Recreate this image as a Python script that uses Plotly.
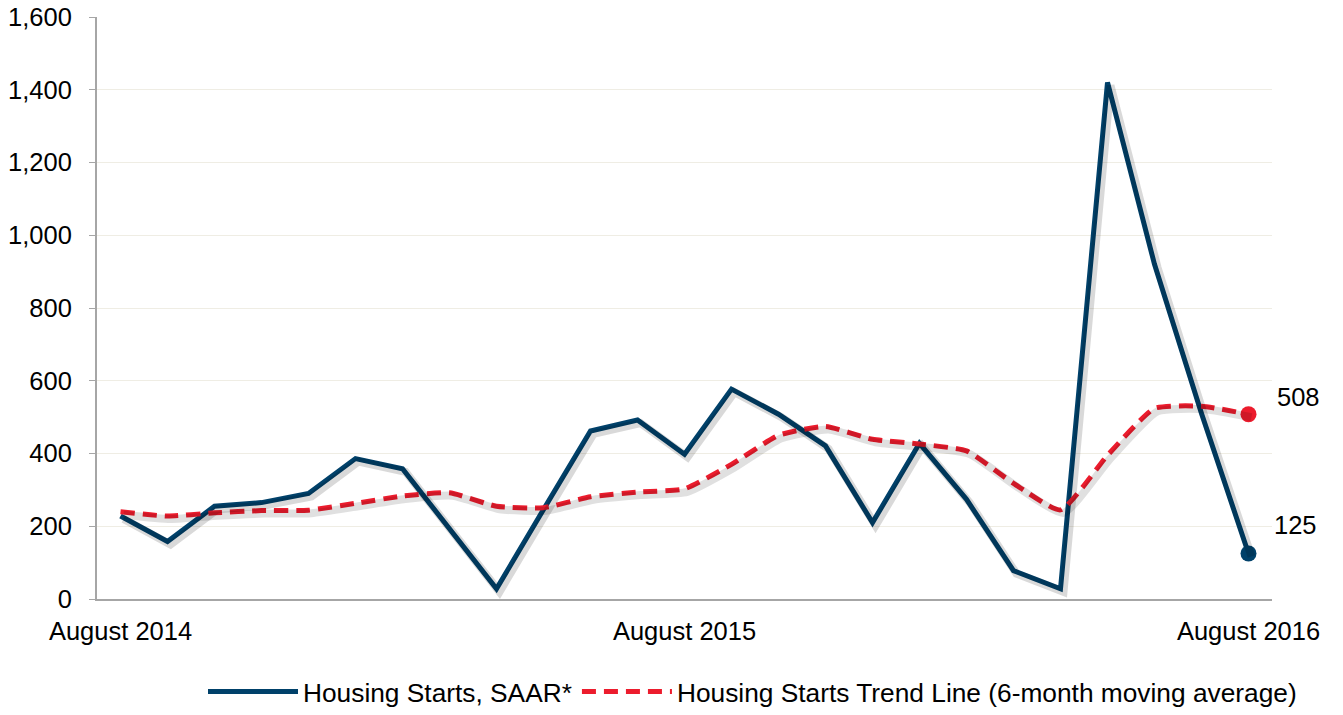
import plotly.graph_objects as go

months = ["Aug 2014", "Sep 2014", "Oct 2014", "Nov 2014", "Dec 2014",
          "Jan 2015", "Feb 2015", "Mar 2015", "Apr 2015", "May 2015", "Jun 2015", "Jul 2015",
          "Aug 2015", "Sep 2015", "Oct 2015", "Nov 2015", "Dec 2015",
          "Jan 2016", "Feb 2016", "Mar 2016", "Apr 2016", "May 2016", "Jun 2016", "Jul 2016",
          "Aug 2016"]
starts = [228, 158, 255, 265, 290, 386, 358, 192, 28, 246, 462, 492, 398, 577, 508, 421,
          210, 428, 274, 78, 28, 1420, 920, 510, 125]
trend = [240, 228, 237, 243, 244, 263, 283, 292, 255, 251, 281, 294, 303, 370, 450, 474,
         439, 426, 407, 318, 245, 395, 524, 530, 508]
tick_months = ["Aug 2014", "Aug 2015", "Aug 2016"]
tick_text = ["August 2014", "August 2015", "August 2016"]
y_ticks = [0, 200, 400, 600, 800, 1000, 1200, 1400, 1600]

NAVY = "#00416A"
RED = "#EC1C2D"
FONT = "Liberation Sans, Arial, sans-serif"
FS = 25.5

fig = go.Figure()

# drop shadows (drawn on slightly offset overlay axes)
fig.add_trace(go.Scatter(x=months, y=trend, mode="lines", xaxis="x2", yaxis="y2",
                         line=dict(color="rgba(0,0,0,0.12)", width=8, shape="spline", smoothing=0.5),
                         showlegend=False, hoverinfo="skip"))
fig.add_trace(go.Scatter(x=months, y=starts, mode="lines", xaxis="x2", yaxis="y2",
                         line=dict(color="rgba(0,0,0,0.15)", width=8),
                         showlegend=False, hoverinfo="skip"))

fig.add_trace(go.Scatter(x=months, y=starts, mode="lines", name="Housing Starts, SAAR*",
                         line=dict(color=NAVY, width=5)))
fig.add_trace(go.Scatter(x=months, y=trend, mode="lines",
                         name="Housing Starts Trend Line (6-month moving average)",
                         line=dict(color=RED, width=5, dash="14px,8px", shape="spline", smoothing=0.5)))

# end markers
fig.add_trace(go.Scatter(x=[months[-1]], y=[starts[-1]], mode="markers",
                         marker=dict(color=NAVY, size=16), showlegend=False))
fig.add_trace(go.Scatter(x=[months[-1]], y=[trend[-1]], mode="markers",
                         marker=dict(color=RED, size=16), showlegend=False))

fig.add_annotation(x=months[-1], y=trend[-1], text=str(trend[-1]), showarrow=False,
                   xshift=50, yshift=17, font=dict(size=FS, color="#000", family=FONT))
fig.add_annotation(x=months[-1], y=starts[-1], text=str(starts[-1]), showarrow=False,
                   xshift=47, yshift=29, font=dict(size=FS, color="#000", family=FONT))

px_per_cat = 47.0
px_per_unit = 582.0 / 1600.0
dx = 3 / px_per_cat
dy = 3 / px_per_unit

W, H = 1343, 715
fig.update_layout(
    width=W, height=H,
    margin=dict(l=97, r=71, t=17, b=116, autoexpand=False),
    plot_bgcolor="white", paper_bgcolor="white",
    font=dict(family=FONT, size=FS, color="#000"),
    xaxis=dict(type="category", categoryorder="array", categoryarray=months,
               range=[-0.5, 24.5], tickmode="array", tickvals=tick_months, ticktext=tick_text,
               showgrid=False, showline=True, linecolor="#A6A6A6", linewidth=2,
               ticks="", tickfont=dict(size=FS), ticklabelstandoff=8, automargin=False,
               ticklabeloverflow="allow"),
    yaxis=dict(range=[0, 1600], tickvals=y_ticks, tickformat=",d",
               showgrid=True, gridcolor="#EFEDE4", gridwidth=1,
               showline=True, linecolor="#A6A6A6", linewidth=2,
               ticks="outside", ticklen=6, tickcolor="#A6A6A6", tickwidth=1,
               tickfont=dict(size=FS), zeroline=False, automargin=False,
               ticklabelstandoff=12, ticklabeloverflow="allow"),
    xaxis2=dict(type="category", categoryorder="array", categoryarray=months,
                range=[-0.5 - dx, 24.5 - dx], overlaying="x", visible=False),
    yaxis2=dict(range=[0 + dy, 1600 + dy], overlaying="y", visible=False),
    legend=dict(orientation="h", xref="container", yref="container",
                x=1302 / W, xanchor="right", y=23 / H, yanchor="middle",
                font=dict(size=26.3), itemwidth=90, tracegroupgap=0),
    showlegend=True,
)

fig.write_html("out.html", config={"displayModeBar": False},
               post_script="document.body.style.margin='0';document.body.style.overflow='hidden';")
